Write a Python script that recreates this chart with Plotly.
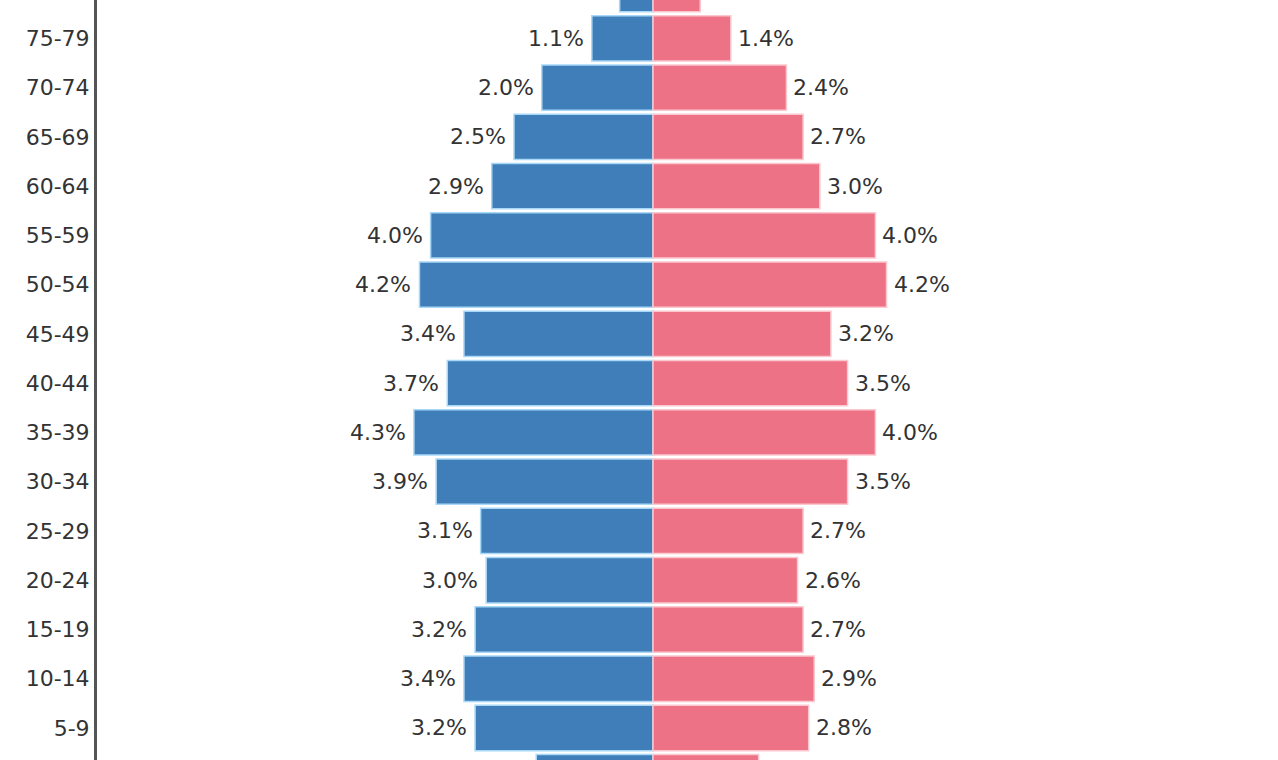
import plotly.graph_objects as go

age_groups = ["0-4", "5-9", "10-14", "15-19", "20-24", "25-29", "30-34", "35-39",
              "40-44", "45-49", "50-54", "55-59", "60-64", "65-69", "70-74", "75-79", "80-84"]
male = [2.1, 3.2, 3.4, 3.2, 3.0, 3.1, 3.9, 4.3, 3.7, 3.4, 4.2, 4.0, 2.9, 2.5, 2.0, 1.1, 0.6]
female = [1.9, 2.8, 2.9, 2.7, 2.6, 2.7, 3.5, 4.0, 3.5, 3.2, 4.2, 4.0, 3.0, 2.7, 2.4, 1.4, 0.85]

idx = list(range(len(age_groups)))
male_neg = [-v for v in male]

fig = go.Figure()
fig.add_trace(go.Bar(
    y=idx, x=male_neg, orientation="h", width=0.92,
    marker=dict(color="#3F7EB9", line=dict(color="#A8D8F8", width=1.5)),
    showlegend=False,
))
fig.add_trace(go.Bar(
    y=idx, x=female, orientation="h", width=0.92,
    marker=dict(color="#EE7285", line=dict(color="#FBC8D0", width=1.5)),
    showlegend=False,
))

annotations = []
for i, (m, f) in enumerate(zip(male, female)):
    annotations.append(dict(x=-m, y=i, text=f"{m:.1f}%", showarrow=False,
                            xanchor="right", xshift=-6,
                            font=dict(family="DejaVu Sans", size=22, color="#333333")))
    annotations.append(dict(x=f, y=i, text=f"{f:.1f}%", showarrow=False,
                            xanchor="left", xshift=5,
                            font=dict(family="DejaVu Sans", size=22, color="#333333")))

fig.update_layout(
    width=1278, height=760,
    margin=dict(l=97, r=69, t=0, b=0, pad=0, autoexpand=False),
    barmode="overlay",
    paper_bgcolor="white", plot_bgcolor="white",
    annotations=annotations,
    xaxis=dict(range=[-10, 10], showgrid=False, zeroline=False, showticklabels=False,
               showline=False, fixedrange=True, automargin=False),
    yaxis=dict(range=[0.35, 15.78], tickvals=idx, ticktext=age_groups,
               showgrid=False, zeroline=False, showline=True, linecolor="#555555",
               linewidth=3, ticks="", ticklabelstandoff=0, automargin=False,
               tickfont=dict(family="DejaVu Sans", size=22, color="#333333")),
)

fig.write_html("out.html", config={"displayModeBar": False},
               post_script="document.body.style.margin='0';document.body.style.overflow='hidden';")
